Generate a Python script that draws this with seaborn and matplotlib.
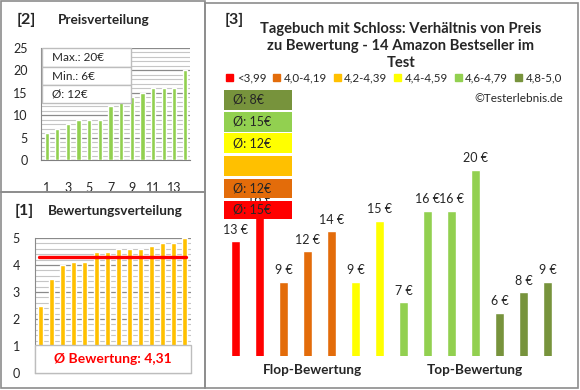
import matplotlib
matplotlib.use("Agg")
import matplotlib.pyplot as plt
import matplotlib.patches as mpatches
from matplotlib.ticker import MultipleLocator
import seaborn as sns
import pandas as pd
import numpy as np

# data
ratings = [2.5, 3.5, 4.0, 4.1, 4.1, 4.5, 4.5, 4.6, 4.6, 4.6, 4.7, 4.8, 4.8, 5.0]
prices = [13, 16, 9, 12, 14, 9, 15, 7, 16, 16, 20, 6, 8, 9]
class_labels = ["<3,99", "4,0-4,19", "4,2-4,39", "4,4-4,59", "4,6-4,79", "4,8-5,0"]
class_bounds = [0, 3.995, 4.195, 4.395, 4.595, 4.795, 5.01]
class_colors = ["#FF0000", "#E36C0A", "#FFC000", "#FFFF00", "#92D050", "#77933C"]
groups = ["Flop-Bewertung", "Top-Bewertung"]

W, H = 580, 390


def box(x0, y0, x1, y1):
    return [x0 / W, 1 - y1 / H, (x1 - x0) / W, (y1 - y0) / H]


def rnd(v):
    # excel style rounding (half up)
    return int(np.floor(v + 0.5))


sns.set_style("white")
plt.rcParams["font.family"] = ["Lato", "DejaVu Sans"]

fig = plt.figure(figsize=(W / 100, H / 100), dpi=100)

# panel borders
for x0, y0, x1, y1 in [(1, 1, 205, 192), (1, 192, 205, 388), (205, 3, 578, 388)]:
    fig.add_artist(mpatches.Rectangle((x0 / W, 1 - y1 / H), (x1 - x0) / W, (y1 - y0) / H,
                                      transform=fig.transFigure, fill=False,
                                      edgecolor="#8c8c8c", lw=1.2))

grid_major = "#8a8a8a"
grid_minor = "#c6c6c6"

# ---- [2] Preisverteilung
price_sorted = sorted(prices)
df2 = pd.DataFrame({"n": [str(i + 1) for i in range(len(price_sorted))], "p": price_sorted})
ax2 = fig.add_axes(box(41.4, 48, 190.3, 160))
sns.barplot(data=df2, x="n", y="p", color="#92D050", width=0.4, saturation=1, ax=ax2, zorder=3)
ax2.set_ylim(0, 25)
ax2.yaxis.set_major_locator(MultipleLocator(5))
ax2.yaxis.set_minor_locator(MultipleLocator(1))
ax2.grid(axis="y", which="major", color=grid_major, lw=0.9, zorder=0)
ax2.grid(axis="y", which="minor", color=grid_minor, lw=0.8, zorder=0)
ax2.set_axisbelow(True)
ax2.set_xticks(range(0, 14, 2))
ax2.set_xticklabels([str(i) for i in range(1, 15, 2)])
ax2.tick_params(axis="x", length=0, pad=16, labelsize=9)
ax2.tick_params(axis="y", which="both", length=0, pad=10, labelsize=9)
ax2.set_xlabel("")
ax2.set_ylabel("")
for s in ["top", "right"]:
    ax2.spines[s].set_visible(False)
ax2.spines["left"].set_color(grid_major)
ax2.spines["bottom"].set_color("#7f7f7f")

stats = [f"Max.: {max(prices)}€", f"Min.: {min(prices)}€", f"Ø: {rnd(np.mean(prices))}€"]
rows = [(48, 67), (67, 85), (85, 103)]
for (ya, yb), txt in zip(rows, stats):
    fig.add_artist(mpatches.Rectangle((42 / W, 1 - yb / H), (131 - 42) / W, (yb - ya) / H,
                                      transform=fig.transFigure, facecolor="white",
                                      edgecolor="#bdbdbd", lw=1, zorder=10))
    fig.text(52 / W, 1 - (ya + yb) / 2 / H, txt, fontsize=8.5, va="center", ha="left", zorder=11)

fig.text(17 / W, 1 - 20 / H, "[2]", fontsize=11.5, fontweight="bold", va="center")
fig.text(58 / W, 1 - 20 / H, "Preisverteilung", fontsize=9.8, fontweight="bold", va="center")

# ---- [1] Bewertungsverteilung
rating_sorted = sorted(ratings)
df1 = pd.DataFrame({"n": [str(i + 1) for i in range(len(rating_sorted))], "r": rating_sorted})
ax1 = fig.add_axes(box(35, 238, 190.5, 373))
sns.barplot(data=df1, x="n", y="r", color="#FFC000", width=0.45, saturation=1, ax=ax1, zorder=3)
ax1.set_ylim(0, 5)
ax1.yaxis.set_major_locator(MultipleLocator(1))
ax1.yaxis.set_minor_locator(MultipleLocator(0.2))
ax1.grid(axis="y", which="major", color=grid_major, lw=0.9, zorder=0)
ax1.grid(axis="y", which="minor", color=grid_minor, lw=0.8, zorder=0)
ax1.set_axisbelow(True)
ax1.set_xticks([])
ax1.tick_params(axis="y", which="both", length=0, pad=11, labelsize=9)
ax1.set_xlabel("")
ax1.set_ylabel("")
for s in ["top", "right"]:
    ax1.spines[s].set_visible(False)
ax1.spines["left"].set_color(grid_major)
ax1.spines["bottom"].set_color("#7f7f7f")
avg_rating = np.mean(ratings)
ax1.axhline(avg_rating, xmin=0.026, xmax=0.974, color="#FF0000", lw=2.4, zorder=5)
ax1.add_patch(mpatches.Rectangle((0, 0), 1, 0.207, transform=ax1.transAxes,
                                 facecolor="white", edgecolor="#bdbdbd", lw=1, zorder=6,
                                 clip_on=False))
ax1.text(0.5, 0.103, f"Ø Bewertung: {avg_rating:.2f}".replace(".", ","),
         transform=ax1.transAxes, ha="center", va="center", color="#FF0000",
         fontsize=10, fontweight="bold", zorder=7)

fig.text(15 / W, 1 - 211 / H, "[1]", fontsize=11.5, fontweight="bold", va="center")
fig.text(48 / W, 1 - 211 / H, "Bewertungsverteilung", fontsize=9.8, fontweight="bold", va="center")

# ---- [3] Preis vs Bewertung
cls = [class_labels[np.searchsorted(class_bounds, r, side="right") - 1] for r in ratings]
df3 = pd.DataFrame({"n": [str(i + 1) for i in range(len(prices))], "p": prices, "c": cls})
ax3 = fig.add_axes(box(223.5, 130, 559.7, 356))
present = [c for c in class_labels if c in cls]
sns.barplot(data=df3, x="n", y="p", hue="c", hue_order=present,
            palette=dict(zip(class_labels, class_colors)), dodge=False,
            width=0.375, saturation=1, legend=False, ax=ax3)
ax3.set_ylim(1.73, 23.93)
ax3.set_xlim(-0.5, 13.5)
for cont in ax3.containers:
    ax3.bar_label(cont, labels=[f"{v:.0f} €" for v in cont.datavalues], padding=4, fontsize=9)
ax3.set_xticks([])
ax3.set_yticks([])
ax3.set_xlabel("")
ax3.set_ylabel("")
for s in ax3.spines.values():
    s.set_visible(False)
ax3.patch.set_alpha(0)
for xg, g in zip([3.2, 9.95], groups):
    ax3.text(xg, -0.062, g, transform=ax3.get_xaxis_transform(), ha="center", va="center",
             fontsize=9.8, fontweight="bold")

fig.text(225 / W, 1 - 20 / H, "[3]", fontsize=11.5, fontweight="bold", va="center")
title = "Tagebuch mit Schloss: Verhältnis von Preis\nzu Bewertung - 14 Amazon Bestseller im\nTest"
fig.text(401 / W, 1 - 46 / H, title, fontsize=10.6, fontweight="bold", ha="center", va="center",
         linespacing=1.3)

handles = [mpatches.Patch(color=c, label=l) for c, l in zip(class_colors, class_labels)]
fig.legend(handles=handles, loc="center", bbox_to_anchor=(394 / W, 1 - 78 / H), ncol=6,
           frameon=False, fontsize=8.3, handlelength=0.6, handleheight=0.6,
           handletextpad=0.3, columnspacing=0.6, borderaxespad=0)

fig.text(563 / W, 1 - 98 / H, "©Testerlebnis.de", fontsize=8.5, ha="right", va="center")

# average boxes, top = best class
box_rows = [(90, 110), (112, 132), (133, 153), (156, 176), (179, 198), (201, 219)]
for (ya, yb), lab, col in zip(box_rows, class_labels[::-1], class_colors[::-1]):
    fig.add_artist(mpatches.Rectangle((224 / W, 1 - yb / H), (292 - 224) / W, (yb - ya) / H,
                                      transform=fig.transFigure, facecolor=col,
                                      edgecolor="none", zorder=10))
    vals = [p for p, c in zip(prices, cls) if c == lab]
    if vals:
        fig.text(233 / W, 1 - (ya + yb) / 2 / H, f"Ø: {rnd(np.mean(vals))}€",
                 fontsize=9, va="center", ha="left", zorder=11)

fig.savefig("out.png", dpi=100)
